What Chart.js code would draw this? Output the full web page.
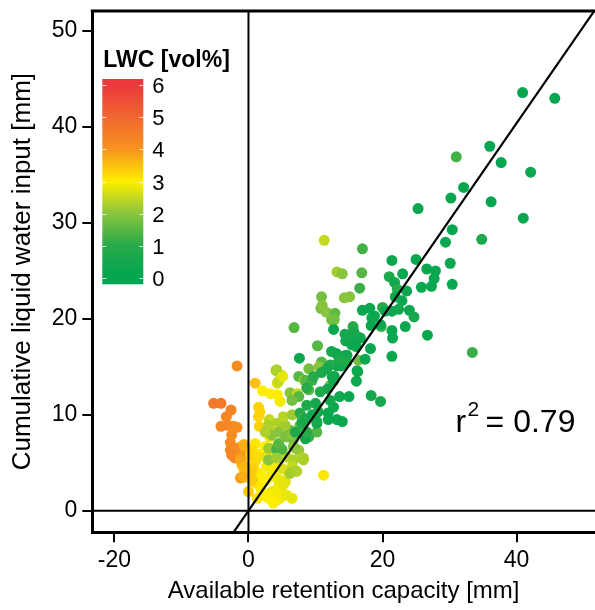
<!DOCTYPE html>
<html>
<head>
<meta charset="utf-8">
<script src="https://cdn.jsdelivr.net/npm/chart.js@4.4.0/dist/chart.umd.min.js"></script>
<style>
  html, body { margin: 0; padding: 0; background: #fff; }
  canvas { display: block; }
</style>
</head>
<body>
<canvas id="chart" width="595" height="610"></canvas>
<script>
// Available retention capacity [mm] (x)
const retention = [
  -1.7, -5.2, -4.1, -2.6, -3.3, -4.1, -3.1, -2.2, -1.7, -2.5,
  -2.7, -2.7, -2.1, -1.7, -1.1, -0.5, -0.7, -1.0, -0.7, -1.0,
  -2.0, -2.5, -2.0, -1.2, -0.7, -1.2, -0.7, -1.0, -1.2, -0.5,
  1.5, 1.7, 1.5, 1.6, 1.0, 0.5, 1.5, 1.0, 0.8, 1.5,
  0.8, 1.7, 2.2, 3.0, 3.5, 2.7, 3.5, 4.2, 4.5, 5.0,
  4.2, 5.5, 6.0, 5.0, 4.0, 3.0, 2.2, 2.5, 1.5, 2.7,
  3.7, 4.7, 5.7, 4.2, 2.2, 0.5, 0.5, 0.3, 1.5, 3.0,
  3.5, 5.2, 2.7, 1.3, 2.0, 4.7, 0.0, 6.5, 3.7, 11.2,
  4.7, 4.3, 4.1, 5.0, 1.0, 2.1, 3.3, 4.3, 4.5,
  3.1, 4.2, 3.7, 5.0, 5.7, 3.2, 4.7, 3.5, 2.7, 6.2,
  7.2, 6.7, 7.0, 7.5, 8.2, 4.0, 5.0, 5.7, 6.7, 8.0,
  6.5, 7.2, 3.0, 3.0, 4.2, 5.0, 4.5, 3.5, 4.5, 5.5,
  6.5, 2.5, 3.0, 5.5, 5.2, 6.5, 6.2, 7.0, 8.2, 4.2,
  10.2, 9.0, 7.7, 6.7, 8.5, 6.8, 4.2, 5.1, 9.0, 7.5,
  8.3, 6.2, 7.3, 10.3, 10.9, 10.5, 12.2, 11.3, 10.9, 10.8,
  11.6, 12.9, 12.4, 11.0, 7.5, 6.5, 9.0, 8.5, 9.5, 7.7,
  8.0, 12.8, 13.2, 14.0, 16.9, 14.3, 15.1, 16.6, 17.0, 16.4,
  40.9, 45.7, 36.0, 31.0, 37.7, 42.1, 32.1, 30.2, 25.3, 36.2,
  41.0, 30.4, 29.4, 34.8, 21.4, 25.0, 30.1, 26.6, 27.9, 23.0,
  21.0, 27.7, 21.8, 25.8, 27.3, 30.4, 23.6, 22.2, 21.9, 22.9,
  17.0, 18.1, 20.0, 18.8, 21.4, 22.4, 24.0, 24.7, 15.6, 18.3,
  19.8, 23.4, 12.7, 14.4, 16.4, 21.4, 21.5, 26.7, 18.2, 15.8,
  13.1, 14.5, 17.4, 21.4, 33.4, 13.2, 16.3, 12.8, 20.4, 15.9,
  16.7, 14.5, 15.4, 16.1, 12.4, 13.7, 14.7, 7.6, 12.2, 13.8,
  16.2, 9.7, 10.9, 12.5, 16.1, 8.7, 10.7, 11.8, 13.6, 15.0,
  18.3, 19.7, 15.7, 10.2, 18.4, 13.5, 14.7, 19.7, 11.7, 13.2,
  12.7, 8.7, 10.0, 12.7, 12.2, 10.4, 11.9, 11.9, 14.0,
  7.0, 8.0, 8.5, 9.5, 8.7, 10.2
];

// Cumulative liquid water input [mm] (y)
const waterInput = [
  15.1, 11.2, 11.2, 10.5, 9.8, 8.8, 8.9, 8.8, 8.7, 7.9,
  7.1, 6.3, 5.6, 5.6, 6.7, 6.3, 5.8, 5.1, 4.4, 3.5,
  6.5, 5.8, 5.5, 5.6, 6.9, 3.4, 3.5, 4.8, 5.3, 4.6,
  10.8, 10.3, 9.8, 8.8, 7.0, 6.3, 5.9, 5.1, 4.4, 3.9,
  3.0, 2.5, 1.8, 1.3, 2.0, 3.2, 4.1, 3.4, 2.5, 1.6,
  1.1, 3.0, 3.9, 4.4, 4.9, 5.1, 5.8, 6.7, 2.7, 1.5,
  1.1, 1.3, 1.6, 2.2, 3.5, 3.2, 4.2, 5.8, 5.6, 5.6,
  4.6, 2.7, 4.6, 1.3, 2.0, 3.2, 2.0, 1.3, 0.8, 3.7,
  11.4, 13.3, 14.6, 14.1, 13.3, 12.5, 12.2, 12.1, 13.5,
  9.5, 9.1, 8.4, 8.3, 7.7, 7.7, 6.3, 6.5, 5.6, 8.4,
  8.1, 7.4, 6.5, 6.3, 5.5, 6.5, 6.2, 5.6, 5.3, 5.5,
  4.6, 4.1, 6.5, 5.3, 6.4, 6.4, 7.0, 7.9, 8.2, 7.7,
  7.9, 8.2, 8.9, 8.9, 9.8, 10.0, 3.9, 4.2, 5.3, 5.5,
  8.2, 7.7, 8.9, 6.7, 7.5, 19.1, 14.7, 14.0, 14.8, 14.0,
  13.6, 12.3, 12.2, 17.2, 15.5, 15.0, 13.1, 28.2, 22.3, 21.1,
  20.7, 20.6, 19.9, 21.4, 11.9, 11.5, 12.6, 13.6, 13.6, 10.2,
  9.6, 19.9, 24.9, 24.7, 24.8, 22.2, 22.3, 23.2, 27.3, 15.7,
  43.6, 43.0, 38.0, 36.9, 36.3, 35.3, 33.7, 32.6, 31.5, 32.2,
  30.5, 29.3, 28.0, 28.3, 26.1, 26.2, 25.8, 25.2, 25.0, 24.7,
  24.4, 24.2, 23.8, 23.3, 23.4, 23.6, 22.9, 23.1, 22.3, 21.9,
  20.9, 21.1, 21.2, 20.3, 20.8, 21.0, 20.9, 20.2, 19.2, 19.3,
  19.2, 19.2, 18.9, 18.4, 18.1, 18.8, 18.0, 18.3, 16.9, 17.5,
  16.4, 16.2, 15.8, 16.1, 16.5, 15.1, 14.5, 14.0, 20.8, 18.1,
  18.0, 17.7, 17.3, 17.1, 16.6, 16.1, 16.2, 15.9, 15.2, 15.1,
  14.6, 14.0, 14.4, 14.0, 13.5, 12.8, 12.4, 12.7, 11.9, 11.9,
  12.0, 19.4, 18.7, 9.3, 20.1, 15.7, 15.5, 11.4, 14.8, 9.5,
  13.5, 11.0, 11.2, 10.8, 11.5, 10.3, 10.2, 9.5, 9.3,
  8.2, 9.1, 9.6, 10.0, 8.2, 9.1
];

// Liquid water content [vol%] of each point
const lwc = [
  4.2, 4.6, 4.6, 4.4, 4.3, 4.3, 4.3, 4.2, 4.1, 4.2,
  4.2, 4.3, 4.4, 4.3, 3.8, 3.7, 3.8, 3.6, 3.5, 3.8,
  4.2, 4.3, 4.3, 4.0, 3.7, 3.9, 3.7, 3.6, 3.8, 3.6,
  3.3, 3.3, 3.3, 3.3, 3.1, 3.2, 3.1, 3.2, 3.3, 3.1,
  3.3, 3.1, 3.0, 3.0, 2.9, 3.0, 2.9, 2.9, 2.8, 2.8,
  2.9, 2.7, 2.6, 2.7, 2.8, 2.9, 3.0, 3.0, 3.1, 3.0,
  3.0, 2.9, 2.8, 2.9, 3.0, 3.4, 3.4, 3.3, 3.2, 3.0,
  2.9, 2.8, 2.9, 3.1, 3.0, 2.8, 3.4, 2.8, 3.0, 3.1,
  2.9, 2.6, 2.3, 2.5, 3.5, 3.0, 3.0, 3.0, 2.5,
  2.5, 2.3, 2.6, 2.4, 2.0, 2.8, 2.5, 2.7, 2.8, 1.6,
  1.4, 1.7, 2.2, 2.1, 2.3, 2.6, 2.5, 2.4, 2.3, 2.3,
  2.5, 2.4, 2.2, 2.0, 1.3, 1.4, 1.5, 2.0, 2.0, 1.9,
  2.0, 2.3, 2.3, 2.2, 2.4, 2.2, 2.2, 2.3, 2.3, 2.2,
  1.5, 1.2, 1.5, 2.0, 0.5, 1.5, 2.3, 2.8, 1.8, 1.5,
  2.3, 2.0, 2.5, 1.5, 1.5, 2.0, 2.0, 2.5, 1.8, 1.8,
  2.0, 1.6, 1.8, 2.0, 1.5, 1.8, 1.5, 1.5, 1.2, 1.0,
  1.2, 1.8, 2.2, 2.0, 1.5, 2.0, 2.0, 1.2, 1.3, 1.8,
  0.1, 0.1, 0.1, 1.3, 0.1, 0.2, 0.1, 0.2, 0.2, 0.1,
  0.2, 0.1, 0.2, 0.7, 0.3, 0.1, 0.2, 0.3, 0.3, 0.2,
  0.8, 0.3, 0.4, 0.2, 0.3, 0.2, 0.3, 1.0, 0.2, 0.4,
  0.3, 0.3, 1.0, 0.2, 0.3, 0.4, 0.3, 0.6, 1.0, 0.3,
  1.3, 0.2, 0.3, 0.5, 1.2, 0.2, 0.2, 0.3, 0.2, 0.4,
  0.3, 0.4, 0.3, 0.2, 1.2, 0.5, 0.3, 0.3, 0.3, 0.5,
  0.4, 0.6, 0.4, 0.3, 0.5, 0.6, 0.4, 0.3, 0.8, 0.5,
  0.3, 1.0, 0.8, 0.5, 0.4, 1.0, 0.8, 0.6, 0.4, 0.3,
  0.5, 0.3, 0.6, 0.5, 0.3, 0.7, 0.8, 0.6, 0.6, 0.3,
  0.5, 0.8, 0.6, 0.4, 0.5, 0.5, 0.3, 0.3, 0.3,
  0.8, 0.7, 0.6, 0.5, 1.0, 0.6
];

// colour scale (LWC value -> colour)
const lwcTicks = [0, 1, 2, 3, 4, 5, 6];
const lwcColors = [
  [0, 166, 81], [38, 170, 74], [136, 196, 62], [255, 238, 0],
  [247, 148, 30], [241, 102, 48], [236, 56, 60]
];

// axes
const xRange = [-23.3, 51.7];
const yRange = [-2.25, 52.1];
const xTicks = [-20, 0, 20, 40];
const yTicks = [0, 10, 20, 30, 40, 50];

// 1:1 reference line and r² label
const fitX = [-5, 60];
const fitSlope = 1.01;
const r2Text = '0.79';
const r2Pos = [30.9, 8.2];

const FONT = "'Liberation Sans', Arial, sans-serif";

function lwcColor(v) {
  const i = Math.max(0, Math.min(Math.floor(v), lwcTicks.length - 2));
  const t = (v - lwcTicks[i]) / (lwcTicks[i + 1] - lwcTicks[i]);
  const a = lwcColors[i], b = lwcColors[i + 1];
  const c = a.map((ch, k) => Math.round(ch + (b[k] - ch) * t));
  return `rgb(${c[0]},${c[1]},${c[2]})`;
}

const points = retention.map((x, i) => ({ x: x, y: waterInput[i] }));
const pointColors = lwc.map(lwcColor);

// top frame, colour bar and r² label
const extras = {
  id: 'extras',
  afterDatasetsDraw(chart) {
    const { ctx, chartArea: a, scales } = chart;
    ctx.save();

    // top frame line (the right side is cut off in the original)
    ctx.strokeStyle = '#000';
    ctx.lineWidth = 3;
    ctx.beginPath();
    ctx.moveTo(a.left - 1.5, a.top);
    ctx.lineTo(a.right, a.top);
    ctx.stroke();

    // colour bar
    const bx = a.left + 10, bw = 41;
    const y0 = a.top + 267.3, y6 = a.top + 74;
    const step = (y0 - y6) / (lwcTicks.length - 1);
    const grad = ctx.createLinearGradient(0, y0, 0, y6);
    lwcTicks.forEach((v, i) => grad.addColorStop(i / (lwcTicks.length - 1), lwcColor(v)));
    ctx.fillStyle = grad;
    ctx.fillRect(bx, y6 - 6, bw, y0 - y6 + 12);

    ctx.strokeStyle = 'rgba(255,255,255,0.8)';
    ctx.lineWidth = 1;
    ctx.fillStyle = '#000';
    ctx.font = `22px ${FONT}`;
    ctx.textBaseline = 'middle';
    ctx.textAlign = 'left';
    lwcTicks.forEach((v, i) => {
      const y = Math.round(y0 - i * step) + 0.5;
      ctx.beginPath();
      ctx.moveTo(bx, y); ctx.lineTo(bx + 4, y);
      ctx.moveTo(bx + bw - 4, y); ctx.lineTo(bx + bw, y);
      ctx.stroke();
      ctx.fillText(String(v), bx + bw + 9, y + 1);
    });

    ctx.font = `bold 23px ${FONT}`;
    ctx.textBaseline = 'alphabetic';
    ctx.fillText('LWC [vol%]', bx + 1, a.top + 56);

    // r² label
    const rx = scales.x.getPixelForValue(r2Pos[0]);
    const ry = scales.y.getPixelForValue(r2Pos[1]);
    ctx.font = `32px ${FONT}`;
    ctx.fillText('r', rx, ry);
    ctx.font = `21px ${FONT}`;
    ctx.fillText('2', rx + 12, ry - 16);
    ctx.font = `32px ${FONT}`;
    ctx.fillText('= ' + r2Text, rx + 30, ry);

    ctx.restore();
  }
};

const tickFont = { family: FONT, size: 23 };

new Chart(document.getElementById('chart'), {
  type: 'scatter',
  data: {
    datasets: [
      {
        data: points,
        pointRadius: 5.5,
        pointHoverRadius: 5.5,
        pointBackgroundColor: pointColors,
        pointBorderWidth: 0,
        pointBorderColor: 'rgba(0,0,0,0)',
        order: 2
      },
      {
        type: 'line',
        data: fitX.map(x => ({ x: x, y: x * fitSlope })),
        borderColor: '#000',
        borderWidth: 2.2,
        pointRadius: 0,
        clip: 0,
        order: 1
      },
      {
        type: 'line',
        data: [{ x: xRange[0] - 5, y: 0 }, { x: xRange[1] + 5, y: 0 }],
        borderColor: '#000',
        borderWidth: 2,
        pointRadius: 0,
        clip: 0,
        order: 1
      },
      {
        type: 'line',
        data: [{ x: 0, y: yRange[0] - 5 }, { x: 0, y: yRange[1] + 5 }],
        borderColor: '#000',
        borderWidth: 2,
        pointRadius: 0,
        clip: 0,
        order: 1
      }
    ]
  },
  options: {
    responsive: false,
    animation: false,
    events: [],
    layout: { autoPadding: false, padding: { top: 11, left: 0, right: 0, bottom: 0 } },
    plugins: { legend: { display: false }, tooltip: { enabled: false } },
    scales: {
      x: {
        type: 'linear',
        min: xRange[0],
        max: xRange[1],
        afterBuildTicks: s => { s.ticks = xTicks.map(v => ({ value: v })); },
        afterFit: s => { s.height = 77.7; s.paddingLeft = 0; s.paddingRight = 0; },
        ticks: { font: tickFont, color: '#000', padding: 5, maxRotation: 0 },
        grid: { drawOnChartArea: false, drawTicks: true, tickLength: 10, color: '#000', lineWidth: 2 },
        border: { display: true, color: '#000', width: 3 },
        title: {
          display: true,
          text: 'Available retention capacity [mm]',
          font: { family: FONT, size: 24 },
          color: '#000',
          padding: { top: 0, bottom: 4 }
        }
      },
      y: {
        type: 'linear',
        min: yRange[0],
        max: yRange[1],
        afterBuildTicks: s => { s.ticks = yTicks.map(v => ({ value: v })); },
        afterFit: s => { s.width = 92.3; s.paddingTop = 0; s.paddingBottom = 0; },
        ticks: { font: tickFont, color: '#000', padding: 5 },
        grid: { drawOnChartArea: false, drawTicks: true, tickLength: 10, color: '#000', lineWidth: 2 },
        border: { display: true, color: '#000', width: 3 },
        title: {
          display: true,
          text: 'Cumulative liquid water input [mm]',
          font: { family: FONT, size: 26 },
          color: '#000',
          padding: { top: 7, bottom: 0 }
        }
      }
    }
  },
  plugins: [extras]
});
</script>
</body>
</html>
